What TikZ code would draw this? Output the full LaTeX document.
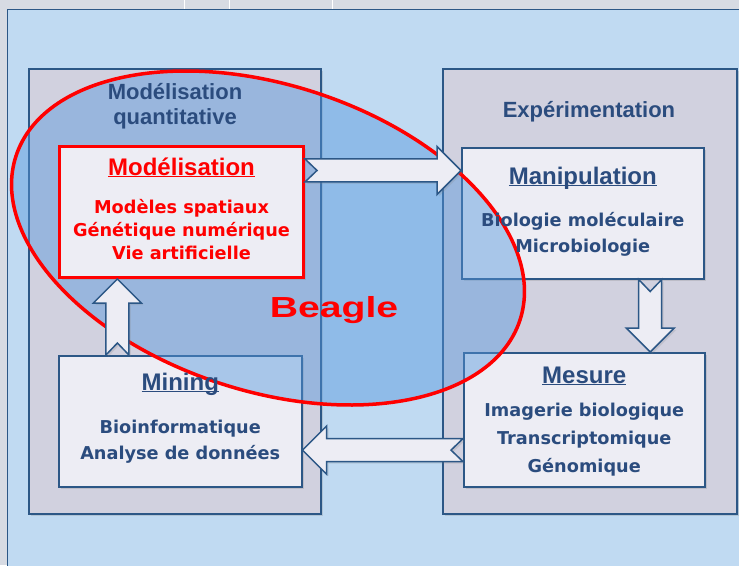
\documentclass[tikz,border=0pt]{standalone}
\usepackage{fontspec}
\setmainfont{Liberation Sans}
\newfontfamily\wideFont{DejaVu Sans}
\usetikzlibrary{calc,shapes.geometric,shadows}
\usepackage{xcolor}
\definecolor{pageGray}{HTML}{D7DBE3}
\definecolor{panelBlue}{HTML}{C0DAF2}
\definecolor{bigFill}{HTML}{D1D1DF}
\definecolor{boxFill}{HTML}{EDEDF4}
\definecolor{boxBorder}{HTML}{2C5786}
\definecolor{ink}{HTML}{2B4C7E}
\definecolor{beagleFill}{HTML}{5597DC}

\tikzset{
  bigbox/.style={draw=boxBorder, line width=1.5pt, fill=bigFill, anchor=north west,
    drop shadow={shadow xshift=2pt, shadow yshift=-2pt, opacity=.25}},
  topicbox/.style={draw=boxBorder, line width=1.5pt, fill=boxFill, anchor=north west,
    drop shadow={shadow xshift=2pt, shadow yshift=-2pt, opacity=.25}},
  heading/.style={anchor=base, text=ink, font=\bfseries\fontsize{22}{25}\selectfont},
  boxtitle/.style={anchor=base, text=ink, font=\bfseries\fontsize{24}{28}\selectfont},
  boxline/.style={anchor=base, text=ink, font=\wideFont\bfseries\fontsize{17.7}{22}\selectfont},
  blockarrow/.style={draw=boxBorder, line width=1.5pt, fill=boxFill, line join=miter,
    drop shadow={shadow xshift=2pt, shadow yshift=-2pt, opacity=.2}},
  beaglezone/.style={ellipse, draw=red, line width=3.5pt, fill=beagleFill, fill opacity=.45,
    minimum width=530pt, minimum height=306pt, inner sep=0pt}
}

\newcommand{\ttl}[1]{\underline{\smash{#1}}}

% block arrow with notched tail, from #1 (tail) to #2 (tip)
\newcommand{\blockArrow}[2]{%
  \draw[blockarrow] let \p1=(#1), \p2=(#2),
      \n1={veclen(\x2-\x1,\y2-\y1)},
      \n2={(\x2-\x1)/\n1}, \n3={(\y2-\y1)/\n1}
    in ({\x1-11.5*\n3},{\y1+11.5*\n2})
    -- ({\x1+(\n1-24)*\n2-11.5*\n3},{\y1+(\n1-24)*\n3+11.5*\n2})
    -- ({\x1+(\n1-24)*\n2-24*\n3},{\y1+(\n1-24)*\n3+24*\n2})
    -- (\x2,\y2)
    -- ({\x1+(\n1-24)*\n2+24*\n3},{\y1+(\n1-24)*\n3-24*\n2})
    -- ({\x1+(\n1-24)*\n2+11.5*\n3},{\y1+(\n1-24)*\n3-11.5*\n2})
    -- ({\x1+11.5*\n3},{\y1-11.5*\n2})
    -- ({\x1+12*\n2},{\y1+12*\n3})
    -- cycle;%
}

\begin{document}
\begin{tikzpicture}[x=1pt, y=-1pt]
  \clip (0,0) rectangle (739,565);

  % page and slide background
  \fill[pageGray] (0,0) rectangle (739,565);
  \draw[white, line width=1pt] (184,0) -- (184,9) (229,0) -- (229,9) (332,0) -- (332,9);
  \draw[fill=panelBlue, draw=boxBorder, line width=1pt] (7,9) rectangle (760,580);

  % the two domains
  \node[bigbox, minimum width=292pt, minimum height=445pt] (quanti) at (28,68) {};
  \node[bigbox, minimum width=294pt, minimum height=445pt] (expe) at (442,68) {};

  % topics
  \node[topicbox, minimum width=242pt, minimum height=131pt] (manip) at (461,147) {};
  \node[topicbox, minimum width=241pt, minimum height=134pt] (mesure) at (463,352) {};
  \node[topicbox, minimum width=243pt, minimum height=131pt] (mining) at (58,355) {};

  % Beagle
  \node[beaglezone, rotate=-18] (beagleZone) at (268,238) {};

  \node[topicbox, draw=red, line width=3pt, minimum width=244pt, minimum height=131pt] (modl) at (58,145) {};

  % texts
  \node[heading] (quantiA) at (175,99) {Modélisation};
  \node[heading] (quantiB) at (175,124) {quantitative};
  \node[heading] (expeT) at (589,117) {Expérimentation};

  \node[boxtitle, text=red] (modlT) at ($(modl.north)+(0,30)$) {\ttl{Modélisation}};
  \foreach \txt [count=\i] in {Modèles spatiaux, Génétique numérique, Vie artificielle}
    \node[boxline, text=red] (modl-\i) at ($(modl.north)+(0,45+23*\i)$) {\txt};

  \node[boxtitle] (manipT) at ($(manip.north)+(0,37)$) {\ttl{Manipulation}};
  \foreach \txt [count=\i] in {Biologie moléculaire, Microbiologie}
    \node[boxline] (manip-\i) at ($(manip.north)+(0,53+26*\i)$) {\txt};

  \node[boxtitle] (mesureT) at ($(mesure.north)+(0,31)$) {\ttl{Mesure}};
  \foreach \txt [count=\i] in {Imagerie biologique, Transcriptomique, Génomique}
    \node[boxline] (mesure-\i) at ($(mesure.north)+(0,36+28*\i)$) {\txt};

  \node[boxtitle] (miningT) at ($(mining.north)+(0,35)$) {\ttl{Mining}};
  \foreach \txt [count=\i] in {Bioinformatique, Analyse de données}
    \node[boxline] (mining-\i) at ($(mining.north)+(0,52+26*\i)$) {\txt};

  % cycle
  \coordinate (a1) at ($(modl.north east)!.19!(modl.south east)$);
  \coordinate (a2) at ($(manip.south west)!.777!(manip.south east)$);
  \coordinate (a3) at ($(mesure.north west)!.724!(mesure.south west)$);
  \coordinate (a4) at ($(mining.north west)!.243!(mining.north east)$);
  \blockArrow{a1}{a1 -| manip.west}
  \blockArrow{a2}{a2 |- mesure.north}
  \blockArrow{a3}{a3 -| mining.east}
  \blockArrow{a4}{a4 |- modl.south}

  \node[anchor=base, text=red, font=\bfseries\fontsize{29}{32}\selectfont] (beagleLabel) at (334,317) {\scalebox{1.35}[1]{Beagle}};
\end{tikzpicture}
\end{document}
